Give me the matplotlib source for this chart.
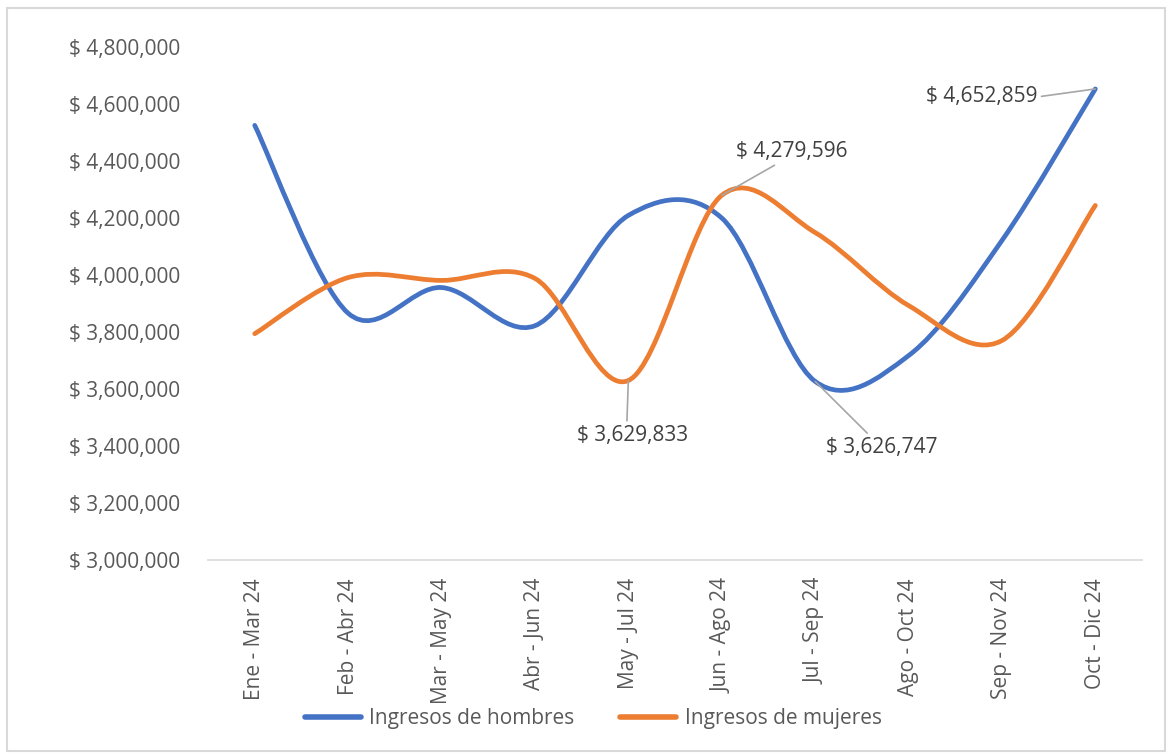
import matplotlib
matplotlib.use("Agg")
import matplotlib.pyplot as plt
from matplotlib.path import Path
from matplotlib.patches import PathPatch
from matplotlib.lines import Line2D
import numpy as np

plt.rcParams['font.family'] = ['Open Sans', 'DejaVu Sans']

categorias = ['Ene - Mar 24', 'Feb - Abr 24', 'Mar - May 24', 'Abr - Jun 24',
              'May - Jul 24', 'Jun - Ago 24', 'Jul - Sep 24', 'Ago - Oct 24',
              'Sep - Nov 24', 'Oct - Dic 24']
hombres = [4525000, 3866000, 3956000, 3822000, 4209000,
           4200000, 3626747, 3717000, 4121000, 4652859]
mujeres = [3794000, 3991000, 3981000, 3988000, 3629833,
           4279596, 4149000, 3893000, 3770000, 4244000]

azul = '#4472C4'
naranja = '#ED7D31'
gris = '#595959'


def smooth_path(x, y):
    # excel-like smoothed line: cubic bezier through every point
    pts = np.column_stack([x, y]).astype(float)
    n = len(pts)
    verts = [pts[0]]
    codes = [Path.MOVETO]
    for i in range(n - 1):
        p0 = pts[i - 1] if i > 0 else pts[i]
        p1 = pts[i]
        p2 = pts[i + 1]
        p3 = pts[i + 2] if i + 2 < n else pts[i + 1]
        c1 = p1 + (p2 - p0) / 6.0
        c2 = p2 - (p3 - p1) / 6.0
        verts += [c1, c2, p2]
        codes += [Path.CURVE4] * 3
    return Path(verts, codes)


fig = plt.figure(figsize=(11.7, 7.53), dpi=100)
ax = fig.add_axes([0.1778, 0.2563, 0.7983, 0.6813])

x = np.arange(len(categorias))
for serie, color in [(hombres, azul), (mujeres, naranja)]:
    patch = PathPatch(smooth_path(x, serie), facecolor='none', edgecolor=color,
                      lw=3.4, capstyle='round', joinstyle='round')
    ax.add_patch(patch)

ax.set_xlim(-0.5, len(categorias) - 0.5)
ax.set_ylim(3000000, 4800000)
ax.set_yticks(np.arange(3000000, 4800001, 200000))
ax.set_yticklabels(['$ {:,.0f}'.format(v) for v in ax.get_yticks()])
ax.set_xticks(x)
ax.set_xticklabels(categorias, rotation=90)
ax.tick_params(axis='both', length=0, labelsize=15, labelcolor=gris)
ax.tick_params(axis='y', pad=20)
ax.tick_params(axis='x', pad=13)
for s in ['top', 'right', 'left']:
    ax.spines[s].set_visible(False)
ax.spines['bottom'].set_color('#d9d9d9')
ax.spines['bottom'].set_linewidth(1.2)

lead = dict(arrowstyle='-', color='#a6a6a6', lw=1.2, shrinkA=1, shrinkB=0)
anot = [
    (9, hombres[9], (-58, -8), 'right', (1.0, 0.5)),
    (5, mujeres[5], (70, 44), 'center', (0.4, 0.0)),
    (4, mujeres[4], (4, -55), 'center', (0.45, 1.0)),
    (6, hombres[6], (67, -66), 'center', (0.4, 1.0)),
]
for xi, v, off, ha, rp in anot:
    ax.annotate('$ {:,.0f}'.format(v), xy=(xi, v), xytext=off,
                textcoords='offset pixels', ha=ha, va='center',
                fontsize=15, color='#404040',
                arrowprops=dict(lead, relpos=rp))

handles = [Line2D([], [], color=azul, lw=4, solid_capstyle='round'),
           Line2D([], [], color=naranja, lw=4, solid_capstyle='round')]
fig.legend(handles, ['Ingresos de hombres', 'Ingresos de mujeres'],
           loc='center', bbox_to_anchor=(0.507, 0.046), ncol=2, frameon=False,
           fontsize=15, labelcolor=gris, handlelength=2.7, columnspacing=2.2,
           handletextpad=0.4)

fig.patches.append(plt.Rectangle((0.006, 0.003), 0.99, 0.986, transform=fig.transFigure,
                                 fill=False, edgecolor='#d9d9d9', lw=1.5))

fig.savefig('out.png', dpi=100)
